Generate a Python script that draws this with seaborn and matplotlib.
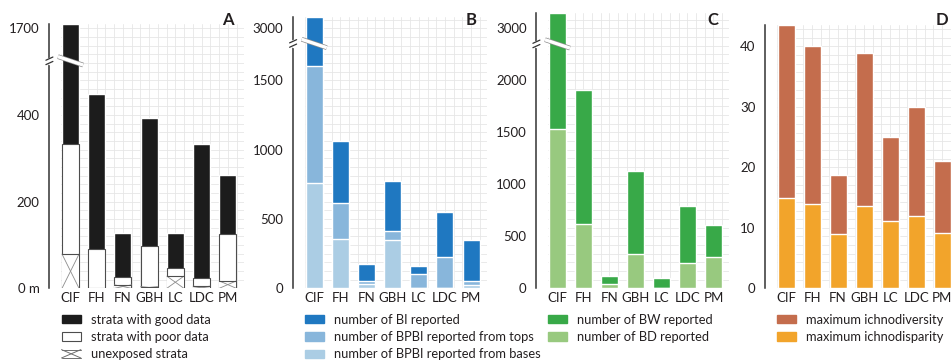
import numpy as np
import matplotlib
matplotlib.use('Agg')
import matplotlib.pyplot as plt
import seaborn as sns
import matplotlib.patheffects as pe
from matplotlib.patches import Patch
from matplotlib.lines import Line2D
from matplotlib.ticker import MultipleLocator, FixedLocator
from matplotlib.legend_handler import HandlerBase

# data
sites = ['CIF', 'FH', 'FN', 'GBH', 'LC', 'LDC', 'PM']

# A: section thickness (m), stacked from the base
unexposed = np.array([79, 0, 8, 4, 28, 5, 17])
poor_data = np.array([253, 90, 17, 94, 20, 18, 108])
good_data = np.array([1378, 359, 102, 294, 79, 309, 136])

# B: bioturbation records
bpbi_bases = np.array([757, 355, 31, 348, 0, 0, 24])
bpbi_tops = np.array([844, 258, 22, 65, 101, 224, 29])
bi_total = np.array([3080, 1062, 175, 776, 161, 550, 348])

# C: burrow records
bd_total = np.array([1532, 615, 41, 327, 0, 240, 301])
bw_total = np.array([3150, 1910, 118, 1131, 99, 794, 606])

# D: ichnology
ichnodiversity = np.array([43.5, 40, 18.8, 38.9, 25.1, 30, 21])
ichnodisparity = np.array([15, 13.9, 8.9, 13.6, 11.1, 11.9, 9.2])

sns.set_style('white')
plt.rcParams['font.family'] = ['Lato', 'DejaVu Sans']
TXT = '#231f20'

W, H = 951, 360
fig = plt.figure(figsize=(W / 100, H / 100), dpi=100)
BOTTOM = 288.3
BW = 0.65


def make_axes(left, top, width):
    ax = fig.add_axes([left / W, (H - BOTTOM) / H, width / W, (BOTTOM - top) / H])
    return ax


def style(ax, xmax, ymax, ticks, labels, minor):
    ax.set_xlim(-0.36, xmax)
    ax.set_ylim(0, ymax)
    ax.yaxis.set_major_locator(FixedLocator(ticks))
    ax.set_yticklabels(labels)
    ax.yaxis.set_minor_locator(MultipleLocator(minor))
    ax.xaxis.set_minor_locator(MultipleLocator(1 / 3))
    ax.grid(which='both', color='#e6e6e6', lw=0.6)
    ax.set_axisbelow(True)
    for s in ['top', 'right', 'bottom']:
        ax.spines[s].set_visible(False)
    ax.spines['left'].set_position(('outward', 8.4))
    ax.spines['left'].set_color('#333333')
    ax.spines['left'].set_linewidth(1.1)
    ax.tick_params(axis='y', which='major', length=5, width=1.1, color='#333333',
                   labelsize=9.5, pad=2, labelcolor=TXT)
    ax.tick_params(axis='y', which='minor', length=0)
    ax.tick_params(axis='x', which='both', length=0, labelsize=9.5, pad=3, labelcolor=TXT)
    ax.set_xlabel('')
    ax.set_ylabel('')


def add_break(ax, yb, w_px, h_px, ymax):
    # break marks on the spine and across the first bar
    px = ymax / h_px
    xs = -11.7 / w_px
    tr = ax.get_yaxis_transform()
    ax.plot([xs, xs], [yb - 2.2 * px, yb + 2.2 * px], color='white', lw=2.5,
            transform=tr, clip_on=False, zorder=6)
    dx = 3.5 / w_px
    for off in (-2.2, 2.2):
        ax.plot([xs - dx, xs + dx], [yb + (off - 1.6) * px, yb + (off + 1.6) * px],
                color='#333333', lw=0.9, transform=tr, clip_on=False, zorder=7)
    ax.plot([-0.48, 0.48], [yb + 4.2 * px, yb - 4.2 * px], color='white', lw=2.4,
            solid_capstyle='butt', zorder=5, clip_on=False,
            path_effects=[pe.Stroke(linewidth=3.4, foreground='#8a8a8a'), pe.Normal()])


def broken(v, tick_val, tick_disp, ymax):
    # values above the break continue from the relabelled tick
    d = np.where(v >= tick_val, tick_disp + (v - tick_val), np.minimum(v, tick_disp))
    return np.minimum(d, ymax)


def bars(ax, vals, color, **kw):
    sns.barplot(x=sites, y=vals, order=sites, color=color, width=BW, saturation=1,
                errorbar=None, ax=ax, **kw)


# ---------- A ----------
axA = make_axes(61.1, 24.0, 182.4)
ymaxA = 610
top_good = unexposed + poor_data + good_data
top_poor = unexposed + poor_data
bars(axA, broken(top_good, 1700, 600, ymaxA), '#1c1c1c', zorder=2)
bars(axA, top_poor, 'white', edgecolor='#4d4d4d', linewidth=0.8, zorder=3)
bars(axA, unexposed, 'white', linewidth=0, zorder=3)
for i, u in enumerate(unexposed):
    if u > 0:
        x0, x1 = i - BW / 2, i + BW / 2
        axA.plot([x0, x1], [0, u], color='#8c8c8c', lw=0.6, zorder=4)
        axA.plot([x0, x1], [u, 0], color='#8c8c8c', lw=0.6, zorder=4)
        axA.plot([x0, x1], [u, u], color='#4d4d4d', lw=0.8, zorder=4)
style(axA, 6.6, ymaxA, [0, 200, 400, 600], ['0 m', '200', '400', '1700'], 20)
add_break(axA, 525, 182.4, BOTTOM - 24.0, ymaxA)

# ---------- B ----------
axB = make_axes(304.8, 16.7, 182)
ymaxB = 1958
bars(axB, broken(bi_total, 3000, 1875, ymaxB), '#1f78c1', zorder=2)
bars(axB, bpbi_bases + bpbi_tops, '#88b6db', zorder=3)
bars(axB, bpbi_bases, '#abcde4', zorder=3)
style(axB, 6.6, ymaxB, [0, 500, 1000, 1500, 1875], ['0', '500', '1000', '1500', '3000'], 62.5)
add_break(axB, 1765, 182, BOTTOM - 16.7, ymaxB)

# ---------- C ----------
axC = make_axes(548.1, 12.7, 181)
ymaxC = 2650
bars(axC, broken(bw_total, 3000, 2500, ymaxC), '#38a948', zorder=2)
bars(axC, bd_total, '#98c97f', zorder=3)
style(axC, 6.6, ymaxC, [0, 500, 1000, 1500, 2000, 2500],
      ['0', '500', '1000', '1500', '2000', '3000'], 250 / 3)
add_break(axC, 2350, 181, BOTTOM - 12.7, ymaxC)

# ---------- D ----------
axD = make_axes(776.7, 24.7, 174.3)
ymaxD = 43.6
bars(axD, ichnodiversity, '#c46d4d', zorder=2)
bars(axD, ichnodisparity, '#f2a42b', zorder=3)
style(axD, 6.34, ymaxD, [0, 10, 20, 30, 40], ['0', '10', '20', '30', '40'], 10 / 7)

# panel letters
for letter, x in zip('ABCD', [227.5, 471, 713, 941.5]):
    fig.text(x / W, 1 - 20 / H, letter, ha='center', va='center', fontsize=12,
             fontweight='bold', color=TXT)


# legends
class Unexposed:
    pass


class XHandler(HandlerBase):
    def create_artists(self, legend, orig, xd, yd, w, h, fontsize, trans):
        x0, y0 = -xd, -yd
        kw = dict(color='#6e6e6e', lw=0.7, transform=trans)
        return [Line2D([x0, x0 + w], [y0, y0 + h], **kw),
                Line2D([x0, x0 + w], [y0 + h, y0], **kw),
                Line2D([x0, x0 + w], [y0, y0], **kw),
                Line2D([x0, x0 + w], [y0 + h, y0 + h], **kw)]


leg_kw = dict(loc='upper left', frameon=False, fontsize=9.3, handlelength=1.5,
              handleheight=0.62, handletextpad=0.75, labelspacing=0.42,
              borderpad=0, borderaxespad=0, labelcolor=TXT)
LEG_Y = 1 - 313.5 / H

fig.legend(handles=[Patch(facecolor='#1c1c1c', edgecolor='#1c1c1c'),
                    Patch(facecolor='white', edgecolor='#4d4d4d', lw=0.8),
                    Unexposed()],
           labels=['strata with good data', 'strata with poor data', 'unexposed strata'],
           handler_map={Unexposed: XHandler()},
           bbox_to_anchor=(61.5 / W, LEG_Y), **leg_kw)
fig.legend(handles=[Patch(color='#1f78c1'), Patch(color='#88b6db'), Patch(color='#abcde4')],
           labels=['number of BI reported', 'number of BPBI reported from tops',
                   'number of BPBI reported from bases'],
           bbox_to_anchor=(305 / W, LEG_Y), **leg_kw)
fig.legend(handles=[Patch(color='#38a948'), Patch(color='#98c97f')],
           labels=['number of BW reported', 'number of BD reported'],
           bbox_to_anchor=(548 / W, LEG_Y), **leg_kw)
fig.legend(handles=[Patch(color='#c46d4d'), Patch(color='#f2a42b')],
           labels=['maximum ichnodiversity', 'maximum ichnodisparity'],
           bbox_to_anchor=(776.7 / W, LEG_Y), **leg_kw)

fig.savefig('out.png', dpi=100)
